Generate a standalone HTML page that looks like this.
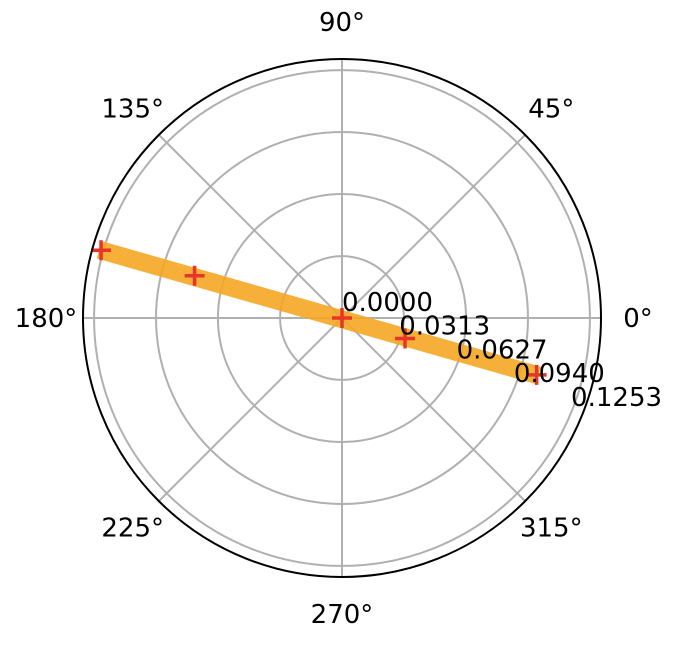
<!DOCTYPE html>
<html><head><meta charset="utf-8"><style>
html,body{margin:0;padding:0;background:#fff;}
svg text{font-family:"DejaVu Sans","Liberation Sans",sans-serif;font-size:26px;fill:#000;}
</style></head><body>
<svg id="chart" width="678" height="640"></svg>
<script>
const rTicks=[0.0,0.0313,0.0627,0.0940,0.1253];
const rTickLabels=["0.0000","0.0313","0.0627","0.0940","0.1253"];
const angleTicks=[0,45,90,135,180,225,270,315];
const bandTheta=[164.3,-16.3];
const bandR=[0.1275,0.1035];
const plusTheta=[164.3,164.0,0,-18.0,-16.3];
const plusR=[0.1265,0.0775,0.0,0.0335,0.1025];
const cx=342,cy=318,R=259,rMax=0.1309;
const NS="http://www.w3.org/2000/svg";
const svg=document.getElementById('chart');
function rs(r){return r/rMax*R;}
function px(t,r){const a=t*Math.PI/180;return [cx+rs(r)*Math.cos(a),cy-rs(r)*Math.sin(a)];}
function mk(tag,attrs){const e=document.createElementNS(NS,tag);for(const k in attrs)e.setAttribute(k,attrs[k]);svg.appendChild(e);return e;}
rTicks.forEach((v,i)=>{if(v<=0)return;
 const c=mk('circle',{cx:cx,cy:cy,r:rs(v),fill:'none',stroke:'#b0b0b0','stroke-width':2});
 
 
});
angleTicks.forEach(t=>{const p=px(t,rMax);
 const l=mk('line',{x1:cx,y1:cy,x2:p[0],y2:p[1],stroke:'#b0b0b0','stroke-width':2});
 
 
 const q=[cx+(R+37)*Math.cos(t*Math.PI/180),cy-(R+37)*Math.sin(t*Math.PI/180)+9];
 const tx=mk('text',{x:q[0],y:q[1],'text-anchor':'middle'});tx.textContent=t+'°';
 
 
});
const b0=px(bandTheta[0],bandR[0]),b1=px(bandTheta[1],bandR[1]);
const band=mk('line',{x1:b0[0],y1:b0[1],x2:b1[0],y2:b1[1],stroke:'#f5a623','stroke-opacity':0.9,'stroke-width':18});


plusTheta.forEach((t,i)=>{const p=px(t,plusR[i]);
 const g=mk('path',{d:`M${p[0]-10},${p[1]}h20M${p[0]},${p[1]-10}v20`,stroke:'#e8352a','stroke-width':3.5,fill:'none'});
 
 
});
const sp=mk('circle',{cx:cx,cy:cy,r:R,fill:'none',stroke:'#000','stroke-width':2});


rTicks.forEach((v,i)=>{const p=px(-22.5,v);
 const tx=mk('text',{x:p[0],y:p[1]-7});tx.textContent=rTickLabels[i];
 
 
});
</script>
</body></html>
